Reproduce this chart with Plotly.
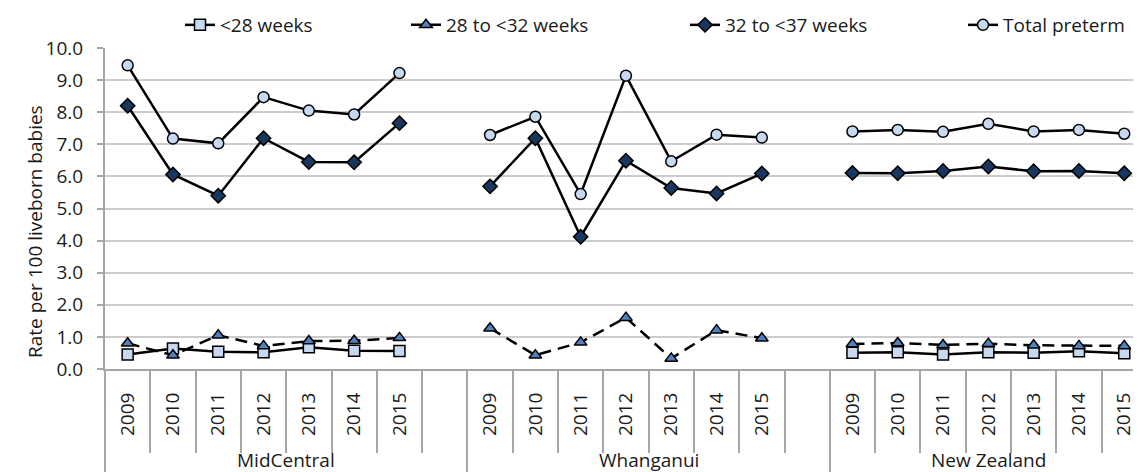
import plotly.graph_objects as go

# data
regions = ["MidCentral", "Whanganui", "New Zealand"]
years = ["2009", "2010", "2011", "2012", "2013", "2014", "2015"]

# each list: MidCentral 2009-2015, Whanganui 2009-2015, New Zealand 2009-2015
under28 = [0.45, 0.64, 0.54, 0.52, 0.68, 0.57, 0.56,
           None, None, None, None, None, None, None,
           0.51, 0.52, 0.45, 0.52, 0.51, 0.55, 0.49]
wk28to32 = [0.80, 0.43, 1.05, 0.72, 0.87, 0.88, 0.97,
            1.27, 0.43, 0.83, 1.60, 0.33, 1.21, 0.96,
            0.78, 0.81, 0.75, 0.79, 0.74, 0.72, 0.72]
wk32to37 = [8.20, 6.06, 5.40, 7.19, 6.45, 6.44, 7.66,
            5.69, 7.19, 4.12, 6.49, 5.64, 5.47, 6.09,
            6.11, 6.10, 6.17, 6.31, 6.16, 6.17, 6.10]
total = [9.46, 7.18, 7.03, 8.47, 8.05, 7.93, 9.22,
         7.29, 7.86, 5.45, 9.14, 6.47, 7.30, 7.21,
         7.40, 7.45, 7.39, 7.64, 7.40, 7.45, 7.33]

series_names = ["<28 weeks", "28 to <32 weeks", "32 to <37 weeks", "Total preterm"]
series_vals = [under28, wk28to32, wk32to37, total]
symbols = ["square", "triangle-up", "diamond", "circle"]
fills = ["#c6d9f1", "#4f81bd", "#17375e", "#c6d9f1"]
dashes = ["solid", "12px,7px", "solid", "solid"]

FONT = "Open Sans"
GREY = "#a6a6a6"
slot = len(years) + 1  # one empty slot after each region


def expand(vals):
    # put a gap (None) in the empty slot between regions
    xs, ys = [], []
    for r in range(len(regions)):
        for k in range(len(years)):
            xs.append(r * slot + k)
            ys.append(vals[r * len(years) + k])
        if r < len(regions) - 1:
            xs.append(r * slot + len(years))
            ys.append(None)
    return xs, ys


fig = go.Figure()
for i, name in enumerate(series_names):
    xs, ys = expand(series_vals[i])
    fig.add_trace(go.Scatter(
        x=xs, y=ys, name=name, mode="lines+markers",
        line=dict(color="black", width=2.5, dash=dashes[i]),
        marker=dict(symbol=symbols[i], size=11,
                    color=fills[i], line=dict(color="black", width=1.5)),
        legend="legend" if i == 0 else "legend%d" % (i + 1),
        connectgaps=False, cliponaxis=False))

# positions (the page body adds an 8px margin, so the figure is 8px smaller)
W, H = 1133, 464
ml, mr, mt, mb = 97, 0, 40, 103
pw = W - ml - mr
ph = H - mt - mb
slot_px = 45.3
xr = [-0.5, -0.5 + pw / slot_px]
base = 369  # page y of the x axis line

centers = [r * slot + k for r in range(len(regions)) for k in range(len(years))]
labels = [y for r in regions for y in years]
bounds = [r * slot + k - 0.5 for r in range(len(regions)) for k in range(len(years) + 1)]
group_bounds = [r * slot - 0.5 for r in range(len(regions))]

fig.update_layout(
    width=W, height=H,
    margin=dict(l=ml, r=mr, t=mt, b=mb, autoexpand=False),
    plot_bgcolor="white", paper_bgcolor="white",
    font=dict(family=FONT, size=19, color="#1a1a1a"),
    xaxis=dict(range=xr, tickmode="array", tickvals=centers, ticktext=labels,
               tickangle=-90, ticks="", showgrid=False, zeroline=False,
               showline=True, linecolor=GREY, linewidth=2, automargin=False,
               ticklabelstandoff=14, ticklabeloverflow="allow", tickfont=dict(size=19),
               minor=dict(tickmode="array", tickvals=bounds, ticks="outside",
                          ticklen=82, tickcolor=GREY, tickwidth=2, showgrid=False)),
    xaxis2=dict(range=xr, overlaying="x", anchor="y", side="bottom",
                tickmode="array", tickvals=group_bounds, ticks="outside",
                ticklen=103, tickcolor=GREY, tickwidth=2, automargin=False,
                showticklabels=False, showgrid=False, zeroline=False, showline=False),
    yaxis=dict(range=[0, 10.001], dtick=1, tickformat=".1f", showgrid=True,
               gridcolor="#cccccc", gridwidth=2, zeroline=False, automargin=False,
               showline=True, linecolor=GREY, linewidth=2, ticklabelstandoff=10,
               ticks="outside", ticklen=6, tickcolor=GREY, tickwidth=2),
)

# an empty trace so the overlay axis is drawn
fig.add_trace(go.Scatter(x=[None], y=[None], xaxis="x2", showlegend=False, hoverinfo="skip"))

# one legend per series, placed so each label starts where the reference has it
legend_text_x = [220, 446, 725, 1003]
for i, tx in enumerate(legend_text_x):
    key = "legend" if i == 0 else "legend%d" % (i + 1)
    fig.update_layout({key: dict(x=(tx - 40 - 105) / pw, y=(base - 25) / ph,
                                 xanchor="left", yanchor="middle", orientation="h",
                                 bgcolor="rgba(0,0,0,0)", font=dict(family=FONT, size=19))})

# region labels under the years
for r, name in enumerate(regions):
    first = r * slot
    last = r * slot + len(years) - 1 + (1 if r < len(regions) - 1 else 0)
    fig.add_annotation(x=(first + last) / 2, xref="x", y=-(460 - base) / ph,
                       yref="paper", text=name, showarrow=False, yanchor="middle",
                       font=dict(family=FONT, size=19))

fig.add_annotation(x=(20 - 105) / pw, xref="paper", y=(base - 232) / ph, yref="paper",
                   text="Rate per 100 liveborn babies", textangle=-90, showarrow=False,
                   font=dict(family=FONT, size=19))

fig.write_html("out.html")
